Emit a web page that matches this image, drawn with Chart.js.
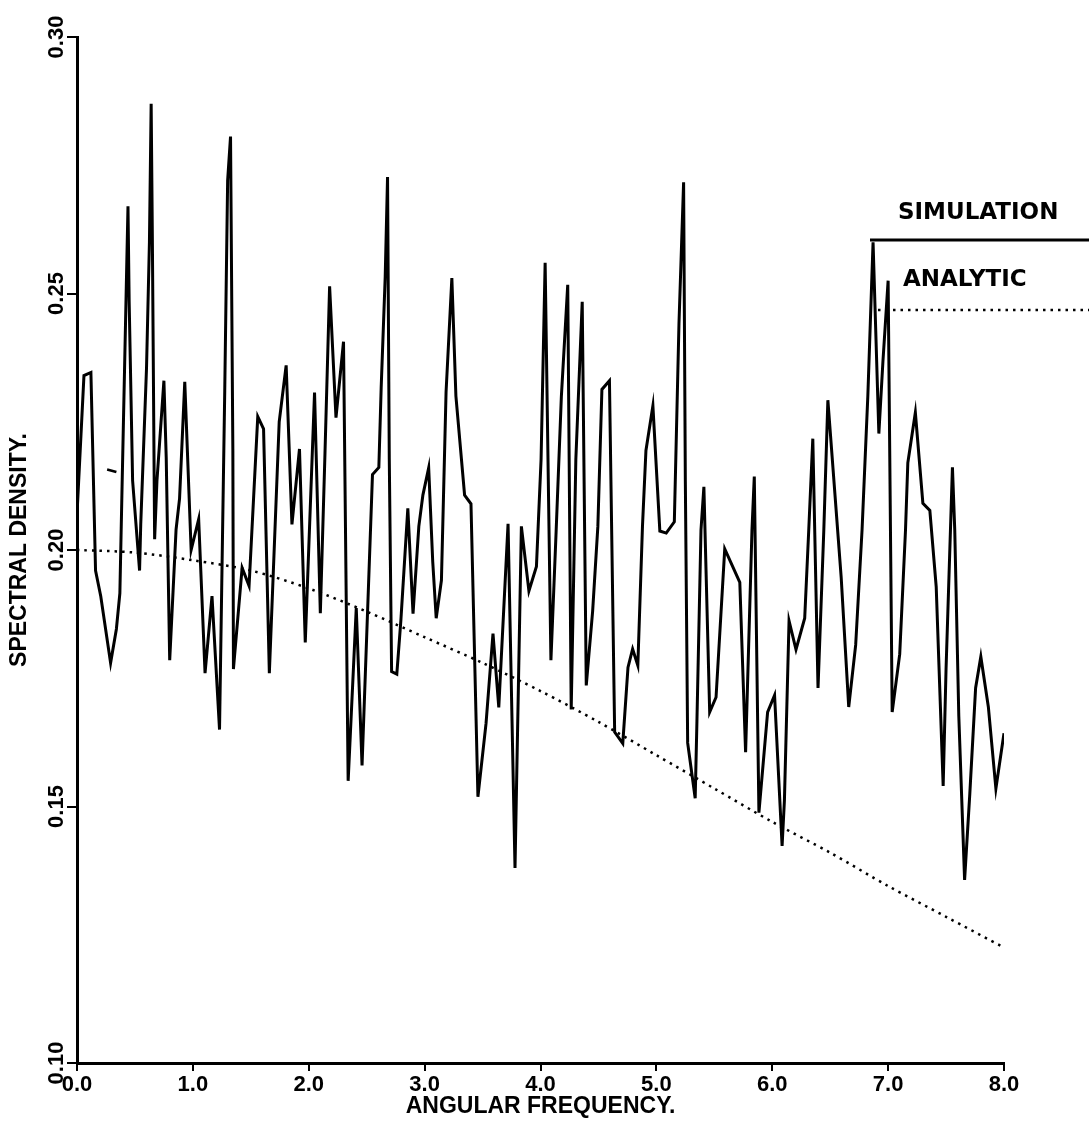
<!DOCTYPE html>
<html>
<head>
<meta charset="utf-8">
<script src="https://cdn.jsdelivr.net/npm/chart.js@4.4.1/dist/chart.umd.min.js"></script>
<style>
  body { margin: 0; background: #fff; }
  #wrap { width: 1089px; height: 1138px; position: relative; }
</style>
</head>
<body>
<div id="wrap"><canvas id="spectrum-chart"></canvas></div>
<script>
// simulated spectral density (x = angular frequency)
const simFreq = [
  0.0, 0.06, 0.12, 0.16, 0.205, 0.29, 0.34, 0.37, 0.39, 0.44, 0.45, 0.48, 0.54, 0.55, 0.60, 0.625, 0.64, 0.65, 0.67, 0.69,
  0.75, 0.77, 0.80, 0.855, 0.885, 0.93, 0.985, 1.05, 1.105, 1.165, 1.23, 1.275, 1.30, 1.325, 1.345, 1.35, 1.425, 1.485, 1.56, 1.61,
  1.66, 1.745, 1.805, 1.855, 1.92, 1.97, 2.05, 2.10, 2.14, 2.18, 2.235, 2.30, 2.34, 2.41, 2.46, 2.55, 2.605, 2.625, 2.66, 2.68,
  2.695, 2.715, 2.76, 2.795, 2.855, 2.90, 2.95, 2.985, 3.035, 3.07, 3.10, 3.145, 3.185, 3.235, 3.27, 3.345, 3.40, 3.46, 3.53, 3.59,
  3.64, 3.72, 3.78, 3.835, 3.90, 3.965, 4.005, 4.04, 4.09, 4.135, 4.18, 4.235, 4.265, 4.305, 4.36, 4.395, 4.45, 4.495, 4.53, 4.595,
  4.64, 4.71, 4.755, 4.795, 4.84, 4.88, 4.91, 4.97, 5.03, 5.085, 5.155, 5.195, 5.235, 5.25, 5.27, 5.335, 5.35, 5.385, 5.41, 5.46,
  5.515, 5.59, 5.72, 5.77, 5.825, 5.845, 5.885, 5.96, 6.02, 6.085, 6.105, 6.145, 6.205, 6.28, 6.315, 6.35, 6.395, 6.445, 6.48, 6.595,
  6.66, 6.72, 6.775, 6.825, 6.87, 6.92, 6.955, 7.0, 7.035, 7.1, 7.15, 7.17, 7.235, 7.30, 7.36, 7.415, 7.475, 7.50, 7.555, 7.575,
  7.61, 7.66, 7.705, 7.755, 7.80, 7.865, 7.93, 8.0
]
const simDensity = [
  0.207, 0.234, 0.2346, 0.196, 0.191, 0.178, 0.1846, 0.1916, 0.2135, 0.267, 0.2486, 0.2135, 0.196, 0.205, 0.2355, 0.26, 0.287, 0.2617, 0.2021, 0.2135,
  0.233, 0.218, 0.1785, 0.204, 0.210, 0.2328, 0.200, 0.206, 0.176, 0.191, 0.165, 0.231, 0.272, 0.2806, 0.2197, 0.1768, 0.1965, 0.193, 0.226, 0.2236,
  0.176, 0.225, 0.236, 0.205, 0.2197, 0.182, 0.2307, 0.1877, 0.2188, 0.2514, 0.2258, 0.2406, 0.155, 0.1887, 0.158, 0.2147, 0.2161, 0.2316, 0.2534, 0.2727,
  0.2177, 0.1763, 0.1758, 0.1863, 0.2081, 0.1876, 0.2046, 0.2107, 0.216, 0.1977, 0.1867, 0.1941, 0.2308, 0.253, 0.230, 0.2107, 0.209, 0.1519, 0.1662, 0.1837,
  0.1693, 0.2051, 0.138, 0.2046, 0.192, 0.1968, 0.2177, 0.256, 0.1785, 0.2037, 0.2299, 0.2517, 0.1689, 0.2177, 0.2484, 0.1736, 0.1881, 0.2046, 0.2313, 0.233,
  0.1645, 0.1623, 0.1771, 0.1807, 0.1775, 0.2046, 0.2194, 0.2281, 0.2037, 0.2033, 0.2055, 0.2441, 0.2717, 0.2133, 0.1624, 0.1516, 0.1666, 0.2039, 0.2123, 0.1684,
  0.1713, 0.2002, 0.1937, 0.1606, 0.2039, 0.2143, 0.1488, 0.1684, 0.1717, 0.1423, 0.1512, 0.1862, 0.1806, 0.1867, 0.2039, 0.2217, 0.1731, 0.2039, 0.2292, 0.1946,
  0.1694, 0.1815, 0.2039, 0.2301, 0.26, 0.2227, 0.2367, 0.2525, 0.1684, 0.1797, 0.2039, 0.217, 0.2268, 0.2091, 0.2077, 0.1928, 0.154, 0.1769, 0.2161, 0.2039,
  0.1676, 0.1357, 0.1525, 0.1731, 0.1792, 0.1694, 0.1535, 0.1643
]

// analytic curve, read at half-unit steps
const anaFreq = [0, 0.5, 1.0, 1.5, 2.0, 2.5, 3.0, 3.5, 4.0, 4.5, 5.0, 5.5, 6.0, 6.5, 7.0, 7.5, 8.0]
const anaDensity = [0.200, 0.1995, 0.198, 0.196, 0.1925, 0.188, 0.183, 0.178, 0.1725, 0.1665, 0.160, 0.1535, 0.147, 0.141, 0.1345, 0.1285, 0.1225]

// short stray dash printed near the left edge of the original
const strayFreq = [0.26, 0.34]
const strayDensity = [0.2157, 0.2152]

const xTickValues = [0, 1, 2, 3, 4, 5, 6, 7, 8]
const yTickValues = [0.10, 0.15, 0.20, 0.25, 0.30]

function toPoints(xs, ys) {
  return xs.map((x, i) => ({ x: x, y: ys[i] }))
}

const tickFont = { family: 'Liberation Sans', weight: 'bold', size: 22 }
const titleFont = { family: 'Liberation Sans', weight: 'bold', size: 23 }

// legend in the top right corner, drawn like the original
const sideLegend = {
  id: 'sideLegend',
  afterDraw(chart) {
    const ctx = chart.ctx
    ctx.save()
    ctx.fillStyle = '#000'
    ctx.strokeStyle = '#000'
    ctx.font = 'bold 23px "DejaVu Sans"'
    ctx.textBaseline = 'middle'
    ctx.fillText('SIMULATION', 898, 213)
    ctx.fillText('ANALYTIC', 903, 280)
    ctx.lineWidth = 3
    ctx.beginPath()
    ctx.moveTo(870, 240)
    ctx.lineTo(1089, 240)
    ctx.stroke()
    ctx.setLineDash([2.5, 5])
    ctx.lineWidth = 2.5
    ctx.beginPath()
    ctx.moveTo(878, 310)
    ctx.lineTo(1089, 310)
    ctx.stroke()
    ctx.restore()
  }
}

const ctx = document.getElementById('spectrum-chart')
const myChart = new Chart(ctx, {
  type: 'line',
  data: {
    datasets: [
      {
        label: 'SIMULATION',
        data: toPoints(simFreq, simDensity),
        borderColor: '#000',
        borderWidth: 3,
        pointRadius: 0,
        tension: 0
      },
      {
        label: 'ANALYTIC',
        data: toPoints(anaFreq, anaDensity),
        borderColor: '#000',
        borderWidth: 2.5,
        borderDash: [2.5, 5],
        pointRadius: 0,
        tension: 0.3
      },
      {
        label: 'stray',
        data: toPoints(strayFreq, strayDensity),
        borderColor: '#000',
        borderWidth: 2.5,
        pointRadius: 0
      }
    ]
  },
  options: {
    responsive: true,
    maintainAspectRatio: false,
    animation: false,
    layout: { padding: { top: 37, right: 85, left: 0, bottom: 0 } },
    plugins: {
      legend: { display: false },
      tooltip: { enabled: false }
    },
    scales: {
      x: {
        type: 'linear',
        min: 0,
        max: 8,
        afterBuildTicks: s => { s.ticks = xTickValues.map(v => ({ value: v })) },
        afterFit: s => { s.height = 75 },
        ticks: {
          callback: v => v.toFixed(1),
          font: tickFont,
          color: '#000',
          padding: 1,
          maxRotation: 0
        },
        grid: { drawOnChartArea: false, tickLength: 8, color: '#000', lineWidth: 2 },
        border: { color: '#000', width: 3 },
        title: {
          display: true,
          text: 'ANGULAR FREQUENCY.',
          font: titleFont,
          color: '#000',
          padding: { top: 0, bottom: 18 }
        }
      },
      y: {
        type: 'linear',
        min: 0.10,
        max: 0.30,
        afterBuildTicks: s => { s.ticks = yTickValues.map(v => ({ value: v })) },
        afterFit: s => { s.width = 77 },
        ticks: {
          callback: v => v.toFixed(2),
          font: tickFont,
          color: '#000',
          minRotation: 90,
          maxRotation: 90,
          crossAlign: 'center',
          padding: -11
        },
        grid: { drawOnChartArea: false, tickLength: 10, color: '#000', lineWidth: 2 },
        border: { color: '#000', width: 3 },
        title: {
          display: true,
          text: 'SPECTRAL DENSITY.',
          font: titleFont,
          color: '#000',
          padding: { top: 6, bottom: 0 }
        }
      }
    }
  },
  plugins: [sideLegend]
})
</script>
</body>
</html>
